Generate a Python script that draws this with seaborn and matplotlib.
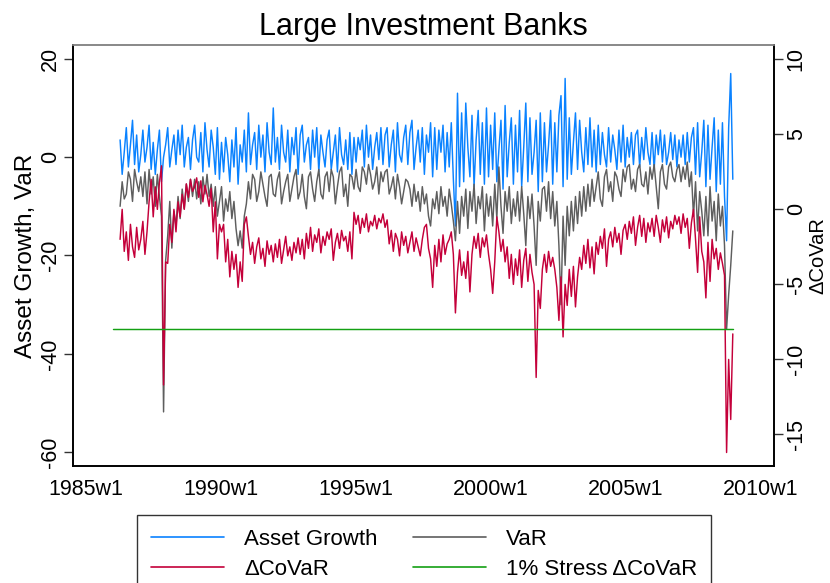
import numpy as np
import pandas as pd
import matplotlib
matplotlib.use("Agg")
import matplotlib.pyplot as plt
import seaborn as sns

# ---------------- data (4-week samples from 1986w14) ----------------
asset_growth = [
    3.5, -3.5, 1.0, 6.0, -2.0, 2.5, 7.5, -1.5, 4.5, -3.0,                        # 1986
    0.5, 5.5, -1.0, 2.0, 6.5, -2.5, 3.0, -3.5, 1.5, 5.5, -5.0, 0.0, 2.5,        # 1987
    6.0, -2.0, 1.5, 4.5, -1.5, 5.5, 0.5, 6.5, -2.0, 2.0, 4.0, -2.5, 3.5,        # 1988
    6.5, 0.0, -1.0, 5.0, -3.0, 7.0, 1.5, -2.0, 5.5, 2.0, -3.5, 6.0, -4.5,       # 1989
    3.0, -3.0, 4.0, 0.5, -5.0, 3.5, -2.0, 6.0, -5.5, 2.5, -1.0, 5.5, -3.0,      # 1990
    9.0, -1.5, 2.5, 5.0, -2.5, 6.5, 0.0, 4.5, -3.0, 7.0, 1.0, -1.5, 10.0,       # 1991
    -1.0, 4.0, -2.5, 6.5, 1.0, -1.0, 5.5, -3.0, 4.0, 0.5, 6.0, -3.5, 4.5,       # 1992
    6.5, -1.0, 2.5, 4.0, -2.5, 5.5, 0.0, 6.0, -3.0, 4.5, 1.0, -2.0, 3.5,        # 1993
    5.5, -2.5, 1.0, 4.5, -3.0, 6.0, 0.5, -1.5, 3.5, -2.5, 5.0, -3.5, 4.0,       # 1994
    -1.0, 4.0, 1.5, 5.5, -2.0, 6.5, 0.0, 4.5, -2.5, 2.0, 5.0, -0.5, 6.0,        # 1995
    -1.5, 4.5, 6.0, -2.0, 2.5, 5.5, -3.0, 7.0, 0.5, -1.0, 4.0, 6.5, -1.5,       # 1996
    5.0, 7.5, -2.5, 2.0, 5.5, -1.0, 6.0, -3.5, 4.5, 1.0, 7.0, -4.0, 6.0,        # 1997
    -2.5, 5.5, 1.0, 6.5, -3.0, 5.0, -2.0, 7.0, -4.5, -14.0, 13.0, -6.0, 9.0,    # 1998
    -5.0, 11.0, 2.0, -4.0, 8.5, -6.0, 3.5, 9.5, -3.5, 7.0, -5.5, 10.0, -4.0,    # 1999
    6.5, -2.5, 9.0, -5.0, 1.5, 7.5, -6.5, 10.5, -4.0, 3.0, 8.0, -5.5, 6.5,      # 2000
    -3.0, 9.5, -6.0, 2.0, 11.0, -5.0, 8.0, -3.5, 1.0, 7.5, -7.0, 9.0, -5.0,     # 2001
    7.0, -3.0, 2.5, 9.5, -5.5, 7.0, -3.0, 8.5, 12.5, -6.0, 16.0, -4.5, 8.0,     # 2002
    -3.5, 3.0, 9.0, -2.5, 7.5, 1.0, -3.0, 6.0, -1.5, 8.0, -2.0, 5.5, -3.0,      # 2003
    6.5, -1.5, 5.0, 0.5, -2.0, 6.0, -1.0, 4.5, 1.5, -2.5, 5.5, -1.0, 6.5,       # 2004
    -2.0, 4.0, 0.0, 5.0, -1.5, 4.5, 5.5, -2.0, 4.0, -0.5, 6.0, 1.0, -1.5,       # 2005
    5.0, -2.5, 4.5, 0.5, 5.5, -1.0, 4.5, -1.5, 1.0, 5.0, -0.5, 4.5, -2.0,       # 2006
    3.5, 0.0, 4.5, -1.5, 5.0, -1.0, 4.0, 6.0, -3.5, 7.0, -4.0, 1.0, 7.5,        # 2007
    -6.0, 6.5, -4.5, 2.0, 8.0, -7.0, 5.5, -5.5, 7.0, -8.0, -17.0, 6.0, 17.0, -4.5,  # 2008
]

var = [
    -10.0, -5.0, -8.5, -7.5, -3.0, -4.5, -9.0, -2.5, -5.0, -7.0,
    -4.0, -8.0, -3.0, -9.5, -2.5, -7.5, -4.0, -10.0, -3.5, -8.0, -12.0, -51.8, -21.0,
    -16.0, -9.0, -18.5, -11.0, -14.0, -8.0, -12.5, -6.5, -10.5, -5.5, -9.0, -4.5, -8.0,
    -4.5, -8.5, -5.0, -9.5, -4.0, -7.5, -3.5, -8.0, -5.5, -10.0, -6.0, -12.0, -9.0,
    -6.0, -13.0, -8.5, -11.0, -7.0, -12.5, -9.0, -14.5, -18.0, -15.0, -18.5, -12.0, -9.5,
    -5.0, -8.5, -3.5, -4.5, -9.0, -7.0, -3.0, -5.5, -8.0, -10.0, -4.0, -3.5, -7.5,
    -8.0, -4.5, -3.0, -9.5, -7.0, -5.0, -3.5, -9.0, -6.5, -4.0, -2.5, -8.5, -7.0,
    -3.5, -8.0, -10.5, -4.0, -3.0, -6.5, -9.0, -5.0, -2.5, -7.5, -8.5, -4.0, -3.0,
    -7.0, -2.5, -4.0, -9.5, -6.0, -3.0, -2.0, -8.0, -5.5, -10.0, -3.5, -4.0, -6.5,
    -2.5, -6.0, -7.0, -2.0, -3.0, -5.5, -1.5, -3.5, -6.5, -5.0, -2.0, -7.5, -3.0,
    -5.0, -3.0, -2.5, -7.5, -6.0, -4.0, -8.5, -3.5, -6.0, -9.5, -7.0, -4.5, -5.0,
    -6.5, -10.0, -5.5, -9.0, -7.0, -11.0, -6.0, -9.5, -7.5, -12.0, -14.0, -8.5, -10.5,
    -7.0, -11.5, -6.0, -10.0, -8.0, -12.0, -6.5, -9.5, -13.0, -17.0, -9.0, -15.5, -8.0,
    -12.0, -6.5, -14.5, -7.0, -11.0, -5.5, -13.5, -8.0, -10.5, -6.0, -15.0, -7.5, -12.0,
    -8.0, -14.0, -5.5, -12.5, -2.0, -10.0, -15.5, -7.0, -11.0, -6.0, -13.5, -8.5, -12.0,
    -7.0, -13.0, -6.0, -11.5, -18.0, -8.0, -12.5, -7.5, -14.0, -22.0, -9.0, -13.0, -6.5,
    -6.0, -11.0, -5.0, -12.5, -7.0, -14.0, -9.0, -18.0, -30.0, -12.0, -22.0, -10.0, -16.0,
    -9.0, -15.0, -8.0, -13.5, -7.0, -12.0, -6.0, -11.0, -5.5, -10.0, -4.5, -9.0, -6.0,
    -3.0, -8.5, -10.0, -4.0, -2.5, -7.0, -5.0, -9.0, -3.0, -4.0, -6.5, -8.0, -2.5,
    -5.0, -2.0, -1.5, -6.5, -4.5, -7.0, -2.5, -1.5, -5.5, -6.0, -3.0, -7.5, -2.0,
    -4.5, -1.5, -6.0, -10.5, -3.0, -1.5, -5.5, -6.5, -2.0, -1.0, -4.0, -5.0, -2.5,
    -1.5, -5.0, -2.0, -4.5, -1.0, -6.0, -3.0, -12.0, -5.0, -15.0, -7.0, -11.0, -16.0,
    -8.0, -16.0, -6.0, -13.0, -9.0, -17.0, -7.5, -14.0, -10.0, -18.0, -35.0, -28.0, -22.0, -15.0,
]

delta_covar = [
    -2.0, 0.0, -2.8, -1.5, -3.4, -1.0, -2.5, -3.2, -1.2, -2.7,
    -2.0, -0.8, -3.0, -1.5, 0.5, 2.0, -0.5, 1.5, 0.0, 1.8, 2.9, -11.7, -3.5,
    -3.6, -1.0, -2.2, 0.0, -1.5, 0.5, -0.5, 1.0, 0.0, 1.7, 0.8, 2.0, 1.2,
    1.5, 2.1, 0.8, 1.9, 0.5, 1.6, 1.0, 0.2, 1.4, -1.5, 0.5, -3.3, -1.0,
    -1.5, -1.0, -3.5, -2.0, -4.5, -2.8, -4.0, -3.0, -5.2, -3.5, -4.8, -1.0, -0.5,
    -1.8, -3.0, -2.2, -3.6, -2.5, -1.9, -3.3, -2.6, -3.8, -2.1, -3.0, -2.4, -3.5,
    -2.3, -3.2, -2.0, -3.6, -2.7, -1.8, -3.1, -2.5, -3.4, -2.2, -2.9, -1.9, -3.0,
    -2.0, -3.3, -1.6, -2.6, -1.2, -2.8, -1.7, -2.2, -1.3, -2.9, -1.8, -2.4, -1.5,
    -2.0, -1.3, -3.4, -2.2, -1.6, -2.6, -1.4, -2.1, -1.8, -2.8, -1.5, -3.3, -0.2,
    -1.0, -0.4, -1.6, -0.6, -1.2, -0.3, -1.5, -0.8, -1.1, -0.4, -1.3, -0.6, -0.9,
    -0.3, -1.2, -0.7, -2.3, -1.4, -2.8, -1.6, -2.0, -3.1, -1.5, -2.4, -1.8, -2.9,
    -2.2, -1.5, -2.8, -1.9, -2.5, -3.1, -2.0, -1.2, -1.0, -2.6, -3.3, -5.2, -2.4,
    -3.8, -2.0, -3.5, -1.7, -3.0, -2.3, -2.0, -1.5, -3.0, -6.9, -4.2, -2.7, -4.4,
    -3.5, -4.6, -2.8, -5.5, -3.0, -1.8, -2.6, -1.6, -3.2, -1.9, -2.5, -1.7, -3.0,
    -4.0, -5.6, -3.5, -0.5, -1.5, -2.8, -2.0, -3.5, -2.5, -4.6, -3.0, -5.0, -3.3,
    -4.4, -2.7, -5.2, -3.4, -2.6, -4.8, -3.0, -4.2, -5.0, -11.2, -5.4, -6.6, -4.0,
    -3.0, -4.2, -2.8, -3.8, -3.2, -4.0, -5.2, -7.4, -4.5, -8.5, -5.0, -6.4, -4.0,
    -5.8, -3.8, -6.5, -4.5, -3.2, -4.0, -2.4, -3.6, -2.0, -3.9, -2.5, -4.3, -2.2,
    -3.0, -1.8, -2.6, -1.3, -3.8, -2.0, -1.5, -2.5, -1.2, -2.2, -1.6, -3.0, -1.4,
    -1.0, -2.0, -0.8, -1.6, -0.5, -2.4, -1.2, -0.4, -1.8, -0.6, -2.2, -0.9, -1.5,
    -0.6, -1.8, -0.4, -1.2, -2.2, -0.7, -1.5, -0.5, -1.9, -0.8, -1.3, -0.4, -1.0,
    -0.5, -1.6, -0.3, -1.2, -0.6, -2.6, -0.9, 0.0, -2.0, -4.2, -0.5, -2.8, -3.5,
    -5.9, -2.2, -4.8, -2.0, -3.3, -2.6, -4.0, -2.9, -3.6, -4.4, -16.2, -10.0, -14.0, -8.3,
]

stress_dates = ["1986-01-06", "2008-12-22"]
stress_covar = [-8.0, -8.0]

x_tick_years = [1985, 1990, 1995, 2000, 2005, 2010]
x_tick_labels = ["1985w1", "1990w1", "1995w1", "2000w1", "2005w1", "2010w1"]
left_ticks = [-60, -40, -20, 0, 20]
right_ticks = [-15, -10, -5, 0, 5, 10]

# ---------------- frame ----------------
dates = pd.date_range("1986-04-07", periods=len(asset_growth), freq="28D")
df = pd.DataFrame({"date": dates, "ag": asset_growth, "var": var, "dcovar": delta_covar})
df_stress = pd.DataFrame({"date": pd.to_datetime(stress_dates), "s": stress_covar})

sns.set_theme(style="white")
plt.rcParams["font.family"] = ["Liberation Sans", "DejaVu Sans"]
for k in ("text.color", "axes.labelcolor", "xtick.color", "ytick.color"):
    plt.rcParams[k] = "black"

C_BLUE = "#0A82FF"
C_GRAY = "#5E5E5E"
C_RED = "#C4003A"
C_GREEN = "#14A014"
FS = 15.5

fig = plt.figure(figsize=(8.3, 5.83), dpi=100)
ax = fig.add_axes([0.0876, 0.2007, 0.8449, 0.7221])
ax2 = ax.twinx()

lw = 1.05
sns.lineplot(data=df, x="date", y="ag", ax=ax, color=C_BLUE, lw=lw, estimator=None, label="Asset Growth", legend=False)
sns.lineplot(data=df, x="date", y="var", ax=ax, color=C_GRAY, lw=lw, estimator=None, label="VaR", legend=False)
sns.lineplot(data=df, x="date", y="dcovar", ax=ax2, color=C_RED, lw=lw, estimator=None, label="ΔCoVaR", legend=False)
sns.lineplot(data=df_stress, x="date", y="s", ax=ax2, color=C_GREEN, lw=lw, estimator=None, label="1% Stress ΔCoVaR", legend=False)

ax.set_xlim(pd.Timestamp("1984-07-05"), pd.Timestamp("2010-06-25"))
ax.set_ylim(-62.8, 22.8)
ax2.set_ylim(-17.1, 10.95)

ax.set_xticks([pd.Timestamp(f"{y}-01-01") for y in x_tick_years])
ax.set_xticklabels(x_tick_labels, fontsize=FS)
ax.set_yticks(left_ticks)
ax.set_yticklabels([str(t) for t in left_ticks], fontsize=FS, rotation=90, va="center")
ax2.set_yticks(right_ticks)
ax2.set_yticklabels([str(t) for t in right_ticks], fontsize=FS, rotation=90, va="center")

for a in (ax, ax2):
    a.tick_params(axis="both", direction="out", length=6.5, width=1.0, color="#333333", pad=2)
    for s in a.spines.values():
        s.set_color("black")
        s.set_linewidth(1.2)
ax.tick_params(axis="x", pad=3)
ax.spines["top"].set_color("#888888")
ax2.spines["top"].set_color("#888888")

ax.set_xlabel("")
ax.set_ylabel("Asset Growth, VaR", fontsize=17.5, labelpad=2)
ax2.set_ylabel("ΔCoVaR", fontsize=14.5, rotation=90, labelpad=1)
ax.set_title("Large Investment Banks", fontsize=22, pad=7)
ax.grid(False)
ax2.grid(False)

h1, l1 = ax.get_legend_handles_labels()
h2, l2 = ax2.get_legend_handles_labels()
handles = [h1[0], h2[0], h1[1], h2[1]]
labels = [l1[0], l2[0], l1[1], l2[1]]
leg = fig.legend(handles, labels, ncol=2, loc="upper center", bbox_to_anchor=(0.511, 0.116),
                 fontsize=16, frameon=True, fancybox=False, edgecolor="black",
                 handlelength=3.3, handletextpad=0.9, columnspacing=1.6,
                 labelspacing=0.42, borderpad=0.6, borderaxespad=0.0)
leg.get_frame().set_linewidth(1.0)
for ln in leg.get_lines():
    ln.set_linewidth(1.2)

fig.savefig("out.png", dpi=100)
